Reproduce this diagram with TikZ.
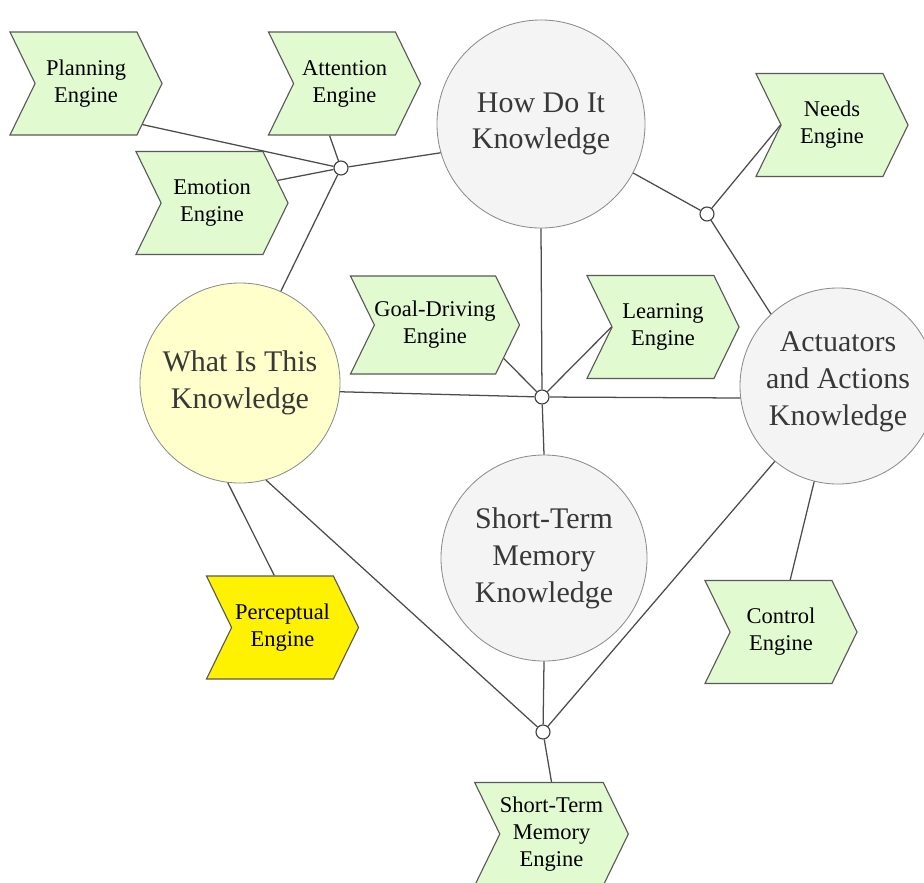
\documentclass[tikz,border=0pt]{standalone}
\usepackage{fontspec}
\setmainfont{Liberation Serif}
\usetikzlibrary{shapes.symbols}
\definecolor{engineGreen}{RGB}{226,250,208}
\definecolor{whatYellow}{RGB}{255,255,204}
\definecolor{knowGray}{RGB}{244,244,244}
\begin{document}
\begin{tikzpicture}[x=0.025cm, y=-0.025cm,
	engine/.style={shape=signal, signal to=east, signal from=west, signal pointer angle=128, fill=engineGreen, draw=black!65, line width=0.8pt, minimum width=3.8cm, minimum height=2.575cm, inner sep=0pt, align=center, font=\fontsize{16}{19.2}\selectfont},
	knowledge/.style={circle, fill=knowGray, draw=black!45, line width=0.6pt, inner sep=0pt, align=center, text=black!78, font=\fontsize{21.3}{26.2}\selectfont},
	junction/.style={circle, fill=white, draw=black!75, line width=0.8pt, minimum size=0.35cm, inner sep=0pt},
	link/.style={line width=0.9pt, color=black!70}]

	\useasboundingbox (0,0) rectangle (924,882);

	\node[engine](planEngine) at (86,83.5){Planning\\Engine};
	\node[engine](attnEngine) at (344.5,83.5){Attention\\Engine};
	\node[engine](emoEngine) at (212,203){Emotion\\Engine};
	\node[engine](needsEngine) at (832,125){Needs\\Engine};
	\node[engine, minimum width=4.1cm, minimum height=2.45cm](goalEngine) at (435,325){Goal-Driving\\Engine};
	\node[engine](learnEngine) at (663,327){Learning\\Engine};
	\node[engine](ctrlEngine) at (781,632){Control\\Engine};
	\node[engine, fill=yellow](percEngine) at (282.5,627.5){Perceptual\\Engine};
	\node[engine](stmEngine) at (551.5,834){Short-Term\\Memory\\Engine};

	\node[knowledge, minimum size=5.2cm](howKnow) at (541,124){How Do It\\Knowledge};
	\node[knowledge, minimum size=5cm, fill=whatYellow](whatKnow) at (240,383){What Is This\\Knowledge};
	\node[knowledge, minimum size=4.9cm](actKnow) at (838,386){Actuators\\and Actions\\Knowledge\\[-0.55cm]};
	\node[knowledge, minimum size=5.15cm](stmKnow) at (544,558){Short-Term\\Memory\\Knowledge};

	\node[junction](joinA) at (341,168){};
	\node[junction](joinB) at (707,214){};
	\node[junction](joinC) at (542,397){};
	\node[junction](joinD) at (543,732){};

	\draw[link] (planEngine.-36) -- (joinA);
	\draw[link] (attnEngine.-106) -- (joinA);
	\draw[link] (emoEngine.19) -- (joinA);
	\draw[link] (joinA) -- (howKnow.196);
	\draw[link] (joinA) -- (whatKnow.66);

	\draw[link] (howKnow.-28) -- (joinB);
	\draw[link] (joinB) -- (needsEngine.180);
	\draw[link] (joinB) -- (actKnow.133);

	\draw[link] (howKnow.south) -- (joinC);
	\draw[link] (goalEngine.-26) -- (joinC);
	\draw[link] (learnEngine.180) -- (joinC);
	\draw[link] (whatKnow.-5) -- (joinC);
	\draw[link] (joinC) -- (actKnow.187);
	\draw[link] (joinC) -- (stmKnow.north);

	\draw[link] (whatKnow.-97) -- (percEngine.99);
	\draw[link] (actKnow.256) -- (ctrlEngine.80);

	\draw[link] (whatKnow.-75) -- (joinD);
	\draw[link] (stmKnow.south) -- (joinD);
	\draw[link] (actKnow.230) -- (joinD);
	\draw[link] (joinD) -- (stmEngine.north);

\end{tikzpicture}
\end{document}
